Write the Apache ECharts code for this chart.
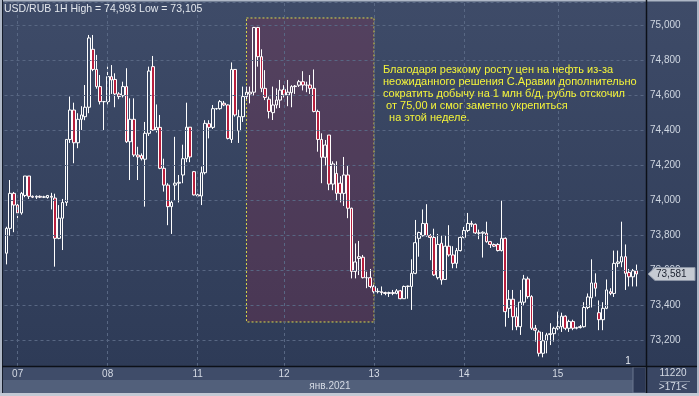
<!DOCTYPE html>
<html><head><meta charset="utf-8">
<script src="https://cdn.jsdelivr.net/npm/echarts@6/dist/echarts.min.js"></script>
<style>html,body{margin:0;padding:0;background:#3a4864;}#c{width:699px;height:396px;}</style>
</head><body><div id="c"></div>
<script>
// ---- data (USD/RUB, 1H candles) ----
const opens=[73.70,73.842,74.042,73.975,73.93,74.03,74.141,74.025,74.02,74.025,74.02,74.018,74.025,74.015,73.785,73.90,73.99,74.35,74.518,74.331,74.465,74.48,74.534,74.865,74.75,74.652,74.566,74.566,74.709,74.693,74.61,74.60,74.652,74.337,74.465,74.261,74.258,74.237,74.385,74.766,74.404,74.419,74.185,74.089,73.966,74.089,74.10,74.147,74.24,74.42,74.166,74.033,74.027,74.16,74.44,74.419,74.526,74.526,74.557,74.547,74.35,74.75,74.40,74.48,74.595,74.61,74.62,74.99,74.823,74.642,74.58,74.503,74.547,74.575,74.636,74.604,74.617,74.652,74.66,74.68,74.661,74.661,74.642,74.51,74.35,74.248,74.375,74.095,74.156,74.10,74.042,74.147,73.957,73.596,73.67,73.677,73.56,73.56,73.51,73.48,73.48,73.475,73.47,73.475,73.47,73.485,73.44,73.51,73.51,73.585,73.785,73.80,73.87,73.80,73.79,73.56,73.757,73.55,73.74,73.69,73.642,73.715,73.79,73.83,73.87,73.865,73.816,73.814,73.814,73.766,73.75,73.75,73.715,73.785,73.385,73.437,73.337,73.28,73.42,73.553,73.452,73.271,73.25,73.128,73.20,73.235,73.24,73.27,73.28,73.34,73.271,73.31,73.271,73.275,73.28,73.39,73.445,73.53,73.36,73.32,73.385,73.48,73.47,73.642,73.65,73.68,73.59,73.565,73.60];
const highs=[73.851,74.118,74.05,74.0,74.05,74.141,74.141,74.03,74.03,74.03,74.028,74.032,74.045,74.04,73.975,74.01,74.35,74.595,74.56,74.50,74.54,74.661,74.947,74.947,74.833,74.718,74.57,74.766,74.775,74.728,74.62,74.68,74.757,74.585,74.585,74.308,74.27,74.45,74.766,74.827,74.55,74.49,74.24,74.10,74.0,74.365,74.147,74.32,74.56,74.42,74.17,74.04,74.195,74.46,74.46,74.547,74.53,74.575,74.57,74.55,74.79,74.75,74.52,74.652,74.652,74.652,74.993,74.993,74.865,74.746,74.595,74.652,74.642,74.69,74.66,74.69,74.66,74.661,74.69,74.74,74.68,74.718,74.75,74.52,74.385,74.347,74.375,74.225,74.225,74.14,74.25,74.2,73.96,73.756,73.77,73.69,73.594,73.61,73.52,73.50,73.51,73.48,73.48,73.49,73.495,73.49,73.515,73.515,73.665,73.89,73.823,73.95,73.98,73.81,73.84,73.81,73.80,73.80,73.86,73.74,73.73,73.795,73.85,73.93,73.885,73.87,73.835,73.825,73.88,73.77,73.755,73.757,74.0,73.79,73.49,73.49,73.39,73.49,73.576,73.566,73.46,73.29,73.26,73.25,73.245,73.30,73.28,73.366,73.36,73.345,73.32,73.32,73.28,73.29,73.42,73.47,73.665,73.585,73.43,73.42,73.55,73.50,73.715,73.715,73.88,73.75,73.61,73.61,73.635];
const lows=[73.636,73.80,73.82,73.90,73.92,74.02,74.01,74.015,74.01,74.015,74.015,74.012,73.95,73.623,73.78,73.718,73.97,74.33,74.214,74.30,74.404,74.46,74.50,74.74,74.64,74.55,74.404,74.55,74.61,74.534,74.58,74.59,74.33,74.118,74.25,74.118,74.23,73.966,74.37,74.40,74.39,74.18,74.052,73.86,73.81,74.0,73.99,74.10,74.22,74.22,74.03,74.02,73.975,74.15,74.356,74.41,74.52,74.52,74.54,74.35,74.33,74.48,74.33,74.45,74.58,74.556,74.60,74.766,74.62,74.575,74.47,74.461,74.527,74.53,74.59,74.54,74.534,74.61,74.65,74.63,74.62,74.61,74.505,74.28,74.10,74.20,74.06,74.06,74.0,73.99,73.97,73.90,73.556,73.556,73.575,73.556,73.50,73.50,73.47,73.47,73.46,73.46,73.45,73.46,73.465,73.437,73.44,73.44,73.376,73.58,73.68,73.795,73.795,73.66,73.57,73.55,73.52,73.55,73.68,73.614,73.614,73.71,73.785,73.82,73.85,73.81,73.78,73.675,73.76,73.73,73.735,73.71,73.71,73.28,73.33,73.26,73.26,73.233,73.40,73.44,73.261,73.195,73.11,73.105,73.128,73.175,73.195,73.26,73.25,73.26,73.25,73.26,73.265,73.27,73.275,73.38,73.39,73.452,73.26,73.26,73.38,73.46,73.45,73.62,73.62,73.49,73.51,73.51,73.51];
const closes=[73.842,74.042,73.975,73.93,74.042,74.141,74.025,74.02,74.025,74.02,74.022,74.03,74.02,73.785,73.90,73.99,74.35,74.518,74.331,74.465,74.49,74.534,74.93,74.75,74.652,74.566,74.566,74.709,74.69,74.61,74.595,74.652,74.337,74.465,74.261,74.25,74.24,74.385,74.741,74.404,74.419,74.185,74.089,73.966,73.99,74.10,74.105,74.24,74.42,74.25,74.033,74.027,74.16,74.442,74.419,74.526,74.526,74.566,74.547,74.356,74.75,74.49,74.48,74.595,74.62,74.62,74.99,74.823,74.642,74.59,74.51,74.547,74.575,74.632,74.604,74.62,74.652,74.655,74.68,74.661,74.66,74.642,74.51,74.35,74.248,74.318,74.095,74.21,74.042,74.042,74.147,73.957,73.596,73.65,73.68,73.56,73.56,73.51,73.48,73.482,73.475,73.47,73.475,73.47,73.485,73.44,73.51,73.512,73.585,73.76,73.818,73.87,73.80,73.79,73.576,73.75,73.547,73.74,73.69,73.642,73.715,73.79,73.83,73.87,73.865,73.816,73.814,73.82,73.766,73.75,73.74,73.715,73.785,73.366,73.437,73.337,73.28,73.42,73.553,73.452,73.271,73.26,73.128,73.20,73.233,73.24,73.271,73.28,73.34,73.271,73.31,73.271,73.275,73.28,73.39,73.45,73.53,73.50,73.32,73.385,73.49,73.47,73.642,73.65,73.68,73.585,73.565,73.60,73.581];
const dayLabels=['07','08','11','12','13','14','15'];
const dayStartIdx=[3,27,51,74,98,122,147];
const slotCount=171;
const monthLabel='янв.2021';
const headerText='USD/RUB 1H High = 74,993 Low = 73,105';
const noteLines=['Благодаря резкому росту цен на нефть из-за','неожиданного решения С.Аравии дополнительно','сократить добычу на 1 млн б/д, рубль отскочил',' от 75,00 и смог заметно укрепиться','  на этой неделе.'];
const boxFromIdx=64, boxToIdx=98, boxTop=75.044, boxBottom=73.307;
const lastPrice=73.581;
const barsText='11220', visibleText='>171<';

const categories=[]; for(let i=0;i<slotCount;i++) categories.push('h'+i);
const candles=opens.map((o,i)=>[o,closes[i],lows[i],highs[i]]);

const W=699,H=396, PL=3, PR=646, PT=2, PB=366;
const FONT='Liberation Sans';
const chart=echarts.init(document.getElementById('c'),null,{renderer:'canvas'});

function isTick(v){return Math.abs(v*5-Math.round(v*5))<1e-6;}

function baseGraphics(){
  const g=[];
  g.push({type:'rect',id:'plotbg',z:-20,shape:{x:PL,y:PT,width:PR-PL,height:PB-PT},
    style:{fill:new echarts.graphic.LinearGradient(0,0,0,1,[{offset:0,color:'#3e4b68'},{offset:1,color:'#2e3b57'}])}});
  g.push({type:'rect',id:'rpbg',z:-20,shape:{x:PR,y:PT,width:W-PR-2,height:PB-PT},
    style:{fill:new echarts.graphic.LinearGradient(0,0,0,1,[{offset:0,color:'#3e4b68'},{offset:1,color:'#2e3b57'}])}});
  g.push({type:'rect',id:'bp1',z:-20,shape:{x:PL,y:PB,width:PR-PL,height:14},style:{fill:'#3f4c69'}});
  g.push({type:'rect',id:'bp2',z:-20,shape:{x:PL,y:PB+14,width:PR-PL,height:H-3-PB-14},style:{fill:'#52607b'}});
  g.push({type:'rect',id:'scr',z:-19,shape:{x:633,y:PB+1,width:PR-633,height:H-3-PB-1},style:{fill:'#2c3855',stroke:'#6a7690',lineWidth:1}});
  g.push({type:'rect',id:'bp3',z:-20,shape:{x:PR,y:PB,width:W-PR-2,height:H-3-PB},style:{fill:'#3a4764'}});
  g.push({type:'rect',id:'bl',z:60,shape:{x:0,y:0,width:2,height:H},style:{fill:'#aeb7c6'}});
  g.push({type:'rect',id:'br',z:60,shape:{x:W-2,y:0,width:2,height:H},style:{fill:'#aeb7c6'}});
  g.push({type:'rect',id:'bt',z:60,shape:{x:0,y:0,width:W,height:1.5},style:{fill:'#aeb7c6'}});
  g.push({type:'rect',id:'bb',z:60,shape:{x:0,y:H-3,width:W,height:3},style:{fill:'#c2c9d4'}});
  g.push({type:'line',id:'l1',z:60,shape:{x1:2.5,y1:0,x2:2.5,y2:H-3},style:{stroke:'#151c2a',lineWidth:1}});
  g.push({type:'line',id:'l2',z:60,shape:{x1:PR+0.5,y1:0,x2:PR+0.5,y2:H-3},style:{stroke:'#0c1018',lineWidth:1.5}});
  g.push({type:'line',id:'l3',z:60,shape:{x1:2,y1:PB+0.5,x2:W-2,y2:PB+0.5},style:{stroke:'#0c1018',lineWidth:1.5}});
  g.push({type:'line',id:'l4',z:60,shape:{x1:660,y1:381.5,x2:690,y2:381.5},style:{stroke:'#7d889c',lineWidth:1}});
  g.push({type:'text',id:'hdr',z:100,style:{x:4,y:9,text:headerText,fill:'#e4e8ee',font:'10.5px '+FONT,textVerticalAlign:'middle'}});
  noteLines.forEach((t,k)=>g.push({type:'text',id:'n'+k,z:100,style:{x:383,y:70+k*12,text:t,fill:'#f4f43a',font:'11px '+FONT,textVerticalAlign:'middle'}}));
  g.push({type:'text',id:'mon',z:100,style:{x:330,y:386.5,text:monthLabel,fill:'#d4dae4',font:'10px '+FONT,textAlign:'center',textVerticalAlign:'middle'}});
  g.push({type:'text',id:'bars',z:100,style:{x:673,y:373.5,text:barsText,fill:'#d4dae4',font:'10px '+FONT,textAlign:'center',textVerticalAlign:'middle'}});
  g.push({type:'text',id:'vis',z:100,style:{x:673,y:387,text:visibleText,fill:'#d4dae4',font:'10px '+FONT,textAlign:'center',textVerticalAlign:'middle'}});
  g.push({type:'text',id:'one',z:100,style:{x:628,y:361,text:'1',fill:'#e8ecf2',font:'10px '+FONT,textAlign:'center',textVerticalAlign:'middle'}});
  return g;
}

const option={
  animation:false,
  backgroundColor:'#3a4864',
  grid:{left:4.5,right:W-PR,top:PT,bottom:H-PB,containLabel:false},
  xAxis:{type:'category',data:categories,boundaryGap:true,z:5,
    axisLine:{show:false},axisTick:{show:false},splitLine:{show:false},
    axisLabel:{interval:(i)=>dayStartIdx.indexOf(i)>=0,formatter:(v,i)=>{const k=dayStartIdx.indexOf(i);return k>=0?dayLabels[k]:'';},
      color:'#d4dae4',fontSize:10,fontFamily:FONT,margin:3}},
  yAxis:{type:'value',position:'right',min:73.0554,max:75.1354,minInterval:0.2,maxInterval:0.2,splitNumber:10,scale:true,z:5,
    axisLine:{show:false},axisTick:{show:false},
    splitLine:{show:true,lineStyle:{color:'#586783',type:[3,3],width:1}},
    axisLabel:{formatter:(v)=>isTick(v)?v.toFixed(3).replace('.',','):'',color:'#d0d7e2',fontSize:10,fontFamily:FONT,margin:4}},
  series:[
    {type:'line',data:[],z:1,silent:true,
      markLine:{silent:true,symbol:['none','none'],label:{show:false},animation:false,
        lineStyle:{color:'#586783',type:[3,3],width:1},
        data:dayStartIdx.map(i=>({xAxis:categories[i]}))}},
    {type:'candlestick',data:candles,z:3,barWidth:3.2,
      itemStyle:{color:'transparent',color0:'#b81f3e',borderColor:'#ffffff',borderColor0:'#ffffff',borderWidth:1}},
    {type:'line',data:[],z:10,silent:true,
      markArea:{silent:true,animation:false,
        itemStyle:{color:'rgba(150,40,70,0.25)',borderColor:'#d8d84a',borderWidth:1,borderType:[2,2]},
        data:[[{xAxis:categories[boxFromIdx],yAxis:boxTop},{xAxis:categories[boxToIdx],yAxis:boxBottom}]]}}
  ],
  graphic:baseGraphics()
};
chart.setOption(option);

const py=chart.convertToPixel({yAxisIndex:0},lastPrice);
const g=baseGraphics();
g.push({type:'polygon',id:'tag',z:90,shape:{points:[[PR+2,py],[PR+9,py-6.5],[W-4,py-6.5],[W-4,py+6.5],[PR+9,py+6.5]]},
  style:{fill:'#c6cbd3',stroke:'#8c95a6',lineWidth:1}});
g.push({type:'text',id:'tagt',z:100,style:{x:PR+10,y:py+0.5,text:lastPrice.toFixed(3).replace('.',','),fill:'#1c2230',font:'10px '+FONT,textVerticalAlign:'middle'}});
chart.setOption({graphic:g});
</script></body></html>
